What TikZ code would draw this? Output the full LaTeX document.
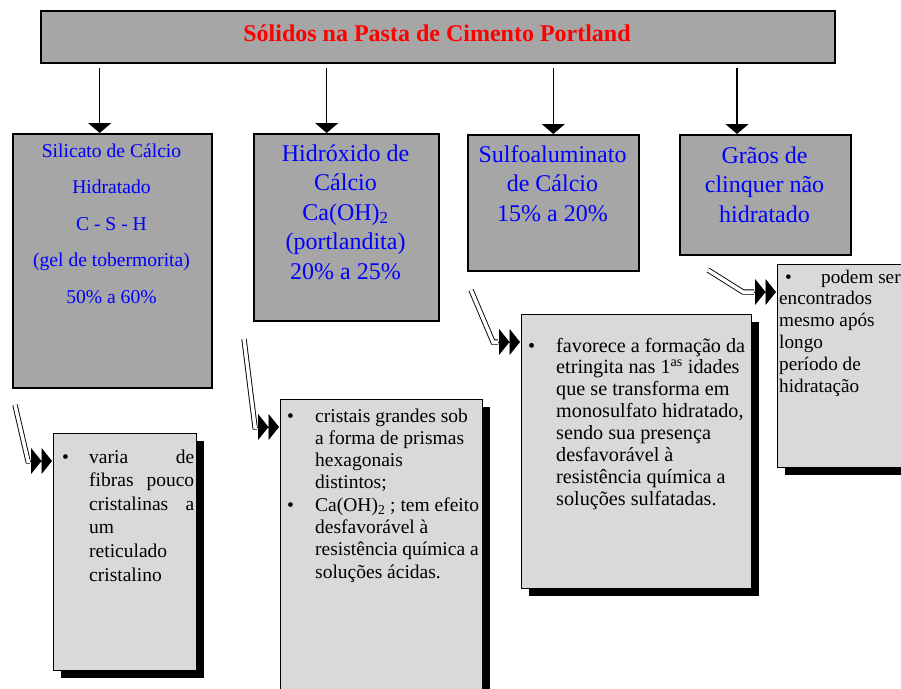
\documentclass[tikz,border=0pt]{standalone}
\usepackage{fontspec}
\setmainfont{Liberation Serif}
\usetikzlibrary{arrows.meta,shadows}
\definecolor{boxgray}{RGB}{166,166,166}
\definecolor{notegray}{RGB}{217,217,217}
\definecolor{headred}{RGB}{255,0,0}
\definecolor{labelblue}{RGB}{0,0,255}

\begin{document}
\begin{tikzpicture}[x=1pt,y=-1pt,
  solidbox/.style={draw, line width=2pt, fill=boxgray, anchor=north west, inner sep=0pt},
  notebox/.style={draw, line width=1pt, fill=notegray, anchor=north west, inner sep=0pt,
    drop shadow={shadow xshift=7pt, shadow yshift=-7pt, fill=black, opacity=1}},
  boxlabel/.style={anchor=base, inner sep=0pt, text=labelblue},
  notetext/.style={anchor=base west, inner sep=0pt},
  feed/.style={line width=1.3pt, -{Triangle[length=10pt,width=23pt]}, shorten <=4pt},
  leader/.style={double, double distance=3.5pt, line width=0.9pt},
  leaderhead/.style={line width=0.9pt,
    -{Triangle[length=10.5pt,width=26pt]Triangle[length=10.5pt,width=26pt]}},
]
\clip (0,0) rectangle (901,688);
\fill[white] (0,0) rectangle (901,688);

% title bar
\node[solidbox, minimum width=794pt, minimum height=52pt] (t) at (40,10) {};
\node[anchor=base, inner sep=0pt, text=headred, font=\bfseries\fontsize{24}{28}\selectfont]
  (tt) at (437,41) {Sólidos na Pasta de Cimento Portland};

% the four solid phases
\node[solidbox, minimum width=199pt, minimum height=254pt] (b1) at (12,133) {};
\node[solidbox, minimum width=185pt, minimum height=187pt] (b2) at (253,133) {};
\node[solidbox, minimum width=171pt, minimum height=136pt] (b3) at (467,134) {};
\node[solidbox, minimum width=171pt, minimum height=120pt] (b4) at (679,134) {};

\node[boxlabel, font=\fontsize{19.6}{36.5}\selectfont] (b1t) at (111.5,157)
  {\begin{tabular}[t]{@{}c@{}}Silicato de Cálcio\\Hidratado\\C - S - H\\(gel de tobermorita)\\50\% a 60\%\end{tabular}};
\node[boxlabel, font=\fontsize{24}{29.5}\selectfont] (b2t) at (345.5,161)
  {\begin{tabular}[t]{@{}c@{}}Hidróxido de\\Cálcio\\Ca(OH)\textsubscript{2}\\(portlandita)\\20\% a 25\%\end{tabular}};
\node[boxlabel, font=\fontsize{24}{29.5}\selectfont] (b3t) at (552.5,162)
  {\begin{tabular}[t]{@{}c@{}}Sulfoaluminato\\de Cálcio\\15\% a 20\%\end{tabular}};
\node[boxlabel, font=\fontsize{24}{29.5}\selectfont] (b4t) at (764.5,163)
  {\begin{tabular}[t]{@{}c@{}}Grãos de\\clinquer não\\hidratado\end{tabular}};

% arrows from the title bar
\coordinate (a1) at ([xshift=-12.8pt]b1.north);
\coordinate (a2) at ([xshift=-19.8pt]b2.north);
\coordinate (a3) at ([xshift=-0.2pt]b3.north);
\coordinate (a4) at ([xshift=-28.5pt]b4.north);
\foreach \i in {1,...,4} {
  \draw[feed] (a\i |- t.south) -- (a\i);
}

% notes with drop shadows
\node[notebox, minimum width=143pt, minimum height=237pt] (cb1) at (53,433) {};
\node[notebox, minimum width=202pt, minimum height=320pt] (cb2) at (280,399) {};
\node[notebox, minimum width=230pt, minimum height=274pt] (cb3) at (521,314) {};
\node[notebox, minimum width=150pt, minimum height=203pt] (cb4) at (777,264) {};

\node[notetext, font=\fontsize{19.5}{23.6}\selectfont] (cb1t) at (62,463)
  {\begin{tabular}[t]{@{}p{27pt}@{}p{105pt}@{}}
   \textbullet & varia\hfill de\\
   & fibras\hfill pouco\\
   & cristalinas\hfill a\\
   & um\\
   & reticulado\\
   & cristalino
   \end{tabular}};
\node[notetext, font=\fontsize{19.5}{22.3}\selectfont] (cb2t) at (287,422)
  {\begin{tabular}[t]{@{}p{28pt}@{}l@{}}
   \textbullet & cristais grandes sob\\
   & a forma de prismas\\
   & hexagonais\\
   & distintos;\\
   \textbullet & Ca(OH)\textsubscript{2} ; tem efeito\\
   & desfavorável à\\
   & resistência química a\\
   & soluções ácidas.
   \end{tabular}};
\node[notetext, font=\fontsize{20.2}{21.9}\selectfont] (cb3t) at (528,352)
  {\begin{tabular}[t]{@{}p{28pt}@{}l@{}}
   \textbullet & favorece a formação da\\
   & etringita nas 1\smash{\textsuperscript{as}} idades\\
   & que se transforma em\\
   & monosulfato hidratado,\\
   & sendo sua presença\\
   & desfavorável à\\
   & resistência química a\\
   & soluções sulfatadas.
   \end{tabular}};
\node[notetext, font=\fontsize{19.2}{21.8}\selectfont] (cb4t) at (779,283)
  {\begin{tabular}[t]{@{}l@{}}
   \hspace*{6pt}\makebox[36pt][l]{\textbullet}podem ser\\
   encontrados\\
   mesmo após\\
   longo\\
   período de\\
   hidratação
   \end{tabular}};

% double-line leaders into the notes
\coordinate (s1) at (15,405);
\coordinate (k1) at (28,461);
\coordinate (s2) at (244,339);
\coordinate (k2) at (255,427);
\coordinate (s3) at (471,290);
\coordinate (k3) at (493,342);
\coordinate (s4) at (708,270);
\coordinate (k4) at (743,292);
\foreach \i in {1,...,4} {
  \coordinate (e\i) at ([xshift=-1pt,yshift=-28pt]cb\i.north west);
  \coordinate (h\i) at ([xshift=-22pt]e\i);
  \draw[leader] (s\i) -- (k\i) -- (h\i);
  \draw[leaderhead] (h\i) -- (e\i);
}
\end{tikzpicture}
\end{document}
